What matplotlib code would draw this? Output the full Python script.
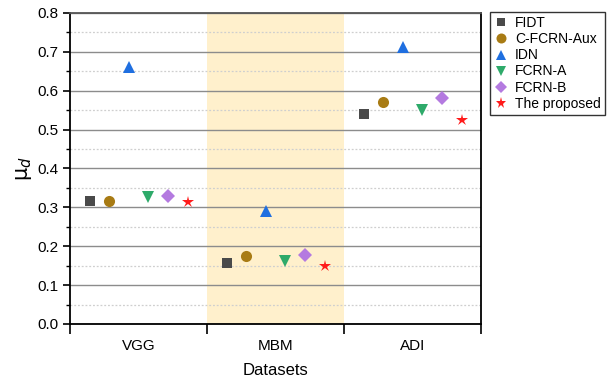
import matplotlib
matplotlib.use("Agg")
import matplotlib.pyplot as plt
from matplotlib.ticker import MultipleLocator

plt.rcParams["font.family"] = ["Liberation Sans", "DejaVu Sans"]

datasets = ["VGG", "MBM", "ADI"]
methods = ["FIDT", "C-FCRN-Aux", "IDN", "FCRN-A", "FCRN-B", "The proposed"]
fidt = [0.317, 0.158, 0.539]
c_fcrn_aux = [0.317, 0.176, 0.570]
idn = [0.662, 0.291, 0.713]
fcrn_a = [0.327, 0.162, 0.550]
fcrn_b = [0.330, 0.178, 0.580]
proposed = [0.315, 0.149, 0.525]

series = [fidt, c_fcrn_aux, idn, fcrn_a, fcrn_b, proposed]
markers = ["s", "o", "^", "v", "D", "*"]
colors = ["#4a4a4a", "#a87b14", "#1f6fe0", "#2eaa6a", "#b47ae0", "#ff1a1a"]
sizes = [7, 8, 8, 8, 7, 9]

fig = plt.figure(figsize=(6.09, 3.82), dpi=100)
ax = fig.add_axes([0.115, 0.152, 0.675, 0.814])

ax.axvspan(1, 2, color="#fff0cc", zorder=0, lw=0)

step = 0.143
for i, (vals, m, c, s, name) in enumerate(zip(series, markers, colors, sizes, methods)):
    xs = [k + 0.5 + (i - 2.5) * step for k in range(len(datasets))]
    ax.plot(xs, vals, linestyle="none", marker=m, color=c, markersize=s,
            markeredgewidth=0, label=name, zorder=3)

ax.set_xlim(0, 3)
ax.set_ylim(0, 0.8)
ax.yaxis.set_major_locator(MultipleLocator(0.1))
ax.yaxis.set_minor_locator(MultipleLocator(0.05))
ax.set_yticklabels([f"{v:.1f}" for v in ax.get_yticks()])
ax.grid(axis="y", which="major", color="#8c8c8c", lw=1.0, zorder=1)
ax.grid(axis="y", which="minor", color="#cfcfcf", lw=0.9, ls=(0, (1.5, 1.5)), zorder=1)

ax.set_xticks([0, 1, 2, 3])
ax.set_xticklabels([])
ax.set_xticks([0.5, 1.5, 2.5], minor=True)
ax.set_xticklabels(datasets, minor=True)
ax.tick_params(axis="x", which="major", length=7, width=1.2, direction="out")
ax.tick_params(axis="x", which="minor", length=0, pad=11, labelsize=11)
ax.tick_params(axis="y", which="major", length=5, width=1.2, labelsize=11)
ax.tick_params(axis="y", which="minor", length=3, width=1.0)

for side in ["left", "right", "bottom"]:
    ax.spines[side].set_linewidth(1.3)
    ax.spines[side].set_color("black")
ax.spines["top"].set_color("#555555")
ax.spines["top"].set_linewidth(1.3)

ax.set_xlabel("Datasets", fontsize=12, labelpad=7)
ax.set_ylabel(r"$\mathrm{\mu}_d$", fontsize=15, labelpad=2)

leg = ax.legend(loc="upper left", bbox_to_anchor=(1.022, 1.003), frameon=True, fancybox=False,
                edgecolor="black", fontsize=10, handletextpad=0.5, borderpad=0.3,
                labelspacing=0.15, handlelength=1.0, borderaxespad=0.0, markerscale=0.9)
leg.get_frame().set_linewidth(1.0)

fig.savefig("out.png", dpi=100)
